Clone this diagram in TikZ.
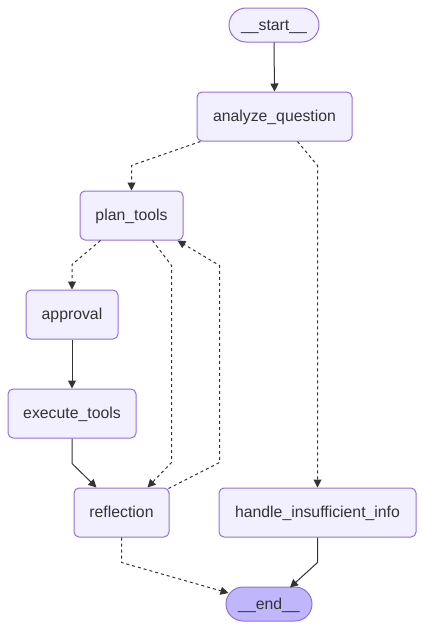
\documentclass[tikz,border=0pt]{standalone}
\usepackage{fontspec}
\setmainfont{Liberation Sans}
\usetikzlibrary{arrows.meta,calc}
\definecolor{nfill}{HTML}{F2F0FF}
\definecolor{nstroke}{HTML}{9370DB}
\definecolor{tfill}{HTML}{BFB6FC}
\definecolor{ink}{HTML}{333333}
\tikzset{
  box/.style={draw=nstroke, fill=nfill, line width=1pt, rounded corners=5pt, inner sep=0pt,
    text=ink, font=\fontsize{15.8}{18}\selectfont, text height=13pt, text depth=3pt},
  term/.style={box, rounded corners=17pt},
  sl/.style={draw=ink, line width=1pt, -{Triangle[length=8pt,width=8pt]}},
  dl/.style={sl, dash pattern=on 3pt off 3pt},
}
\begin{document}
\begin{tikzpicture}[x=1pt,y=-1pt]
\useasboundingbox (0,0) rectangle (424,630);
\node[term, minimum width=90pt, minimum height=34pt] (st) at (274,25) {\_\_start\_\_};
\node[box, minimum width=155pt, minimum height=49pt] (aq) at (274.5,116.5) {analyze\_question};
\node[box, minimum width=103pt, minimum height=49pt] (pt) at (131.5,215.5) {plan\_tools};
\node[box, minimum width=92pt, minimum height=49pt] (ap) at (72,314.5) {approval};
\node[box, minimum width=128pt, minimum height=49pt] (ex) at (72,413.5) {execute\_tools};
\node[box, minimum width=95pt, minimum height=49pt] (rf) at (121.5,512.5) {reflection};
\node[box, minimum width=197pt, minimum height=49pt] (hi) at (317.5,512.5) {handle\_insufficient\_info};
\node[term, fill=tfill, minimum width=86pt, minimum height=34pt] (en) at (269,604) {\_\_end\_\_};

\draw[sl] (st.south) -- (aq.north);
\draw[dl] ($(aq.south west)+(4,0)$) -- ($(pt.north)+(0,-25)$) -- (pt.north);
\draw[dl] ($(aq.south east)+(-55,0)$) -- ($(hi.north)+(0,-322)$) -- (hi.north);
\draw[dl] ($(pt.south west)+(21,0)$) -- ($(ap.north)+(0,-25)$) -- (ap.north);
\draw[sl] (ap.south) -- (ex.north);
\draw[sl] (ex.south) -- ($(ex.south)+(0,25)$) -- ($(rf.north west)+(23,0)$);
\draw[dl] ($(pt.south east)+(-31,0)$) -- ($(pt.south east)+(-12,25)$) -- ($(rf.north east)+(2,-25)$) -- ($(rf.north east)+(-22,0)$);
\draw[dl] ($(rf.north east)+(-1,1)$) -- ($(rf.north east)+(50,-25)$) -- ($(pt.south east)+(36,25)$) -- ($(pt.south east)+(-6,0)$);
\draw[dl] (rf.south) -- ($(rf.south)+(0,25)$) -- ($(en.west)+(3,-11)$);
\draw[sl] (hi.south) -- ($(hi.south)+(0,25)$) -- ($(en.north)+(21,1)$);
\end{tikzpicture}
\end{document}
